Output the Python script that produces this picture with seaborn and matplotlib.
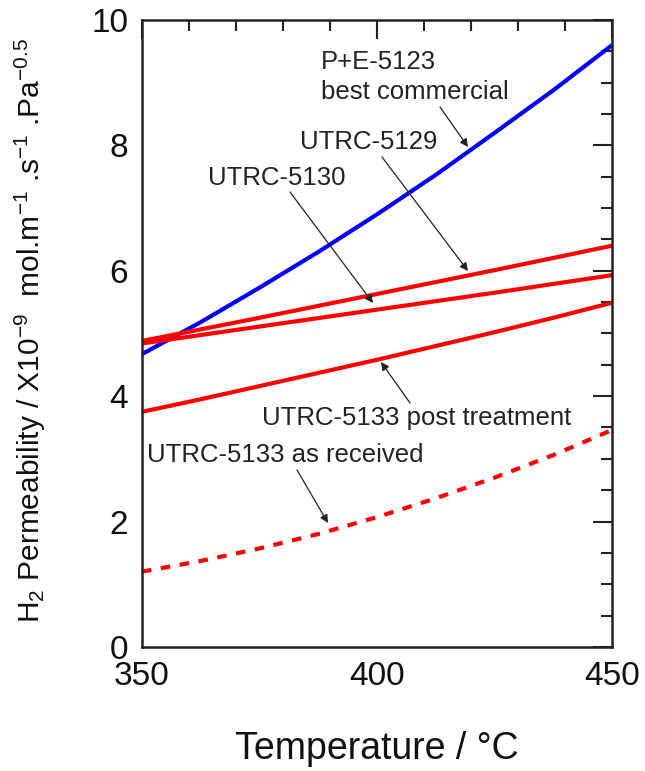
import matplotlib
matplotlib.use("Agg")
import matplotlib.pyplot as plt
import seaborn as sns
from matplotlib.ticker import MultipleLocator

sns.set_theme(style="white")
plt.rcParams['font.family'] = ['Liberation Sans', 'DejaVu Sans']
plt.rcParams['mathtext.default'] = 'regular'

# Temperatures (°C)
temps_fine = [350, 362.5, 375, 387.5, 400, 412.5, 425, 437.5, 450]
temps = [350, 375, 400, 425, 450]

# H2 permeability (x1e-9 mol m-1 s-1 Pa-0.5)
pe_5123 = [4.67, 5.18, 5.73, 6.30, 6.90, 7.53, 8.20, 8.88, 9.60]
utrc_5129 = [4.88, 5.25, 5.63, 6.01, 6.40]
utrc_5130 = [4.84, 5.11, 5.38, 5.65, 5.93]
utrc_5133_post = [3.75, 3.95, 4.16, 4.37, 4.58, 4.80, 5.02, 5.25, 5.49]
utrc_5133_recv = [1.20, 1.37, 1.57, 1.80, 2.07, 2.37, 2.70, 3.06, 3.46]

fig = plt.figure(figsize=(6.45, 7.71), dpi=100)
ax = fig.add_axes([0.220, 0.161, 0.729, 0.813])

lw = 3.0
sns.lineplot(x=temps_fine, y=pe_5123, ax=ax, color="#0000ff", lw=lw)
sns.lineplot(x=temps, y=utrc_5129, ax=ax, color="#ff0000", lw=lw)
sns.lineplot(x=temps, y=utrc_5130, ax=ax, color="#ff0000", lw=lw)
sns.lineplot(x=temps_fine, y=utrc_5133_post, ax=ax, color="#ff0000", lw=lw)
sns.lineplot(x=temps_fine, y=utrc_5133_recv, ax=ax, color="#ff0000", lw=lw)
ax.lines[-1].set_dashes([2.3, 2.3])

ax.set_xlim(350, 450)
ax.set_ylim(0, 10)
ax.xaxis.set_major_locator(MultipleLocator(50))
ax.xaxis.set_minor_locator(MultipleLocator(10))
ax.yaxis.set_major_locator(MultipleLocator(2))
ax.yaxis.set_minor_locator(MultipleLocator(0.5))
ax.tick_params(which='both', direction='in', top=True, right=True, color='#222222')
ax.tick_params(which='major', length=14, width=1.5, labelsize=24, pad=10, labelcolor='#111111')
ax.tick_params(which='minor', length=8, width=1.5)
for s in ax.spines.values():
    s.set_linewidth(1.8)
    s.set_color('#222222')

ax.set_xlabel("Temperature / °C", fontsize=27, labelpad=28, color='#111111')
ax.set_ylabel("H$_2$ Permeability / X10$^{-9}$  mol.m$^{-1}$ .s$^{-1}$ .Pa$^{-0.5}$",
              fontsize=21.5, color='#111111')
ax.yaxis.set_label_coords(-0.20, 0.505)

def px2data(px, py):
    return ax.transData.inverted().transform(fig.transFigure.transform((px / 645, 1 - py / 771)))

arrow = dict(arrowstyle='-|>', color='#222222', lw=0.9, mutation_scale=12, shrinkA=0, shrinkB=0)
annots = [
    ("P+E-5123\nbest commercial", (440, 107), (468, 147), (321, 77)),
    ("UTRC-5129", (382, 157), (468, 271), (300, 142)),
    ("UTRC-5130", (290, 192), (373, 303), (208, 178)),
    ("UTRC-5133 post treatment", (410, 403), (381, 362), (262, 418)),
    ("UTRC-5133 as received", (297, 470), (328, 523), (147, 455)),
]
for text, (sx, sy), (ex, ey), (tx, ty) in annots:
    ax.annotate("", xy=px2data(ex, ey), xytext=px2data(sx, sy), xycoords='data', textcoords='data', arrowprops=arrow)
    ax.text(*px2data(tx, ty), text, fontsize=18.5, ha='left', va='center', color='#222222', linespacing=1.3)

fig.savefig("out.png", dpi=100)
